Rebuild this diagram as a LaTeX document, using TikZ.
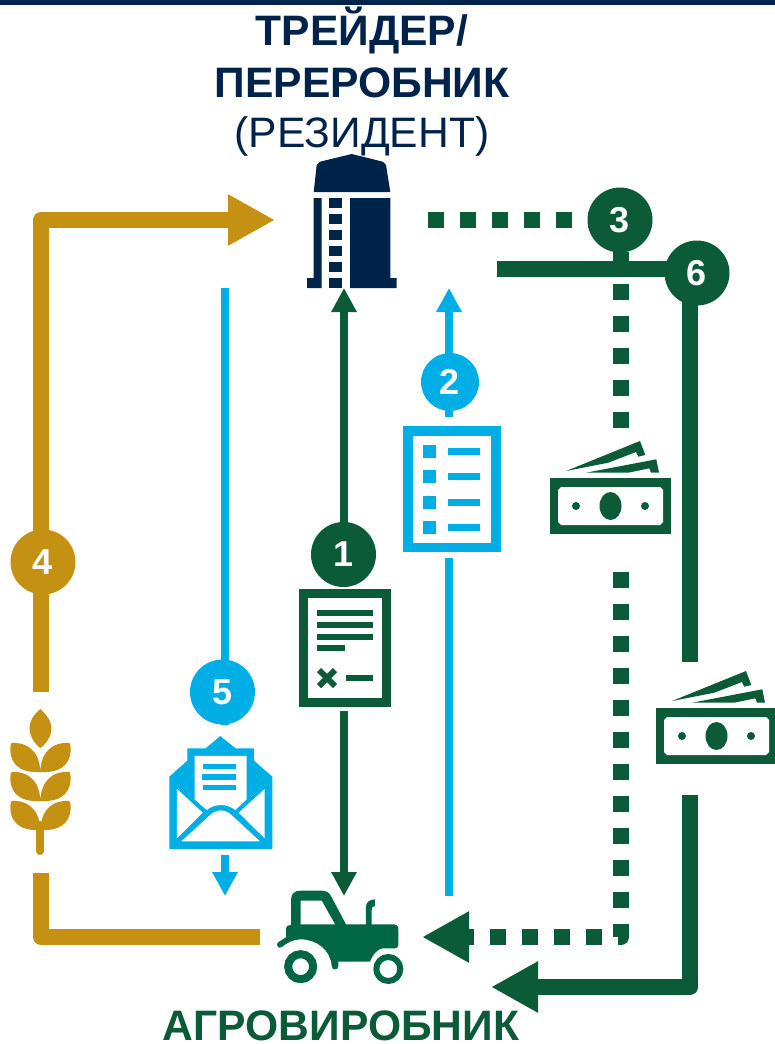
\documentclass[tikz,border=0pt]{standalone}
\usepackage{fontspec}
\setmainfont{Liberation Sans}
\usetikzlibrary{arrows.meta,backgrounds}
\definecolor{navy}{HTML}{00234B}
\definecolor{forest}{HTML}{0B5A38}
\definecolor{tractorgreen}{HTML}{006644}
\definecolor{sky}{HTML}{00AEE6}
\definecolor{wheatgold}{HTML}{C49112}
\tikzset{
title/.style={anchor=base,inner sep=0pt,font=\fontsize{42.6}{42.6}\selectfont\bfseries},
badge/.style={circle,minimum size=65pt,inner sep=0pt,text=white,font=\fontsize{36}{36}\selectfont\bfseries},
thickline/.style={line width=16pt,line join=round},
thinline/.style={line width=8pt},
dotline/.style={line width=16pt,line join=round,dash pattern=on 16pt off 16pt},
bighead/.style={-{Triangle[length=47pt,width=48pt]}},
smallhead/.style={-{Triangle[length=24pt,width=24pt]}},
money/.pic={
\fill[forest] (0,0) rectangle (121,56);
\fill[white] (11,9)--(110,9)--(113,12)--(113,44)--(110,47)--(11,47)--(8,44)--(8,12)--cycle;
\fill[forest] (60.5,28) ellipse (11 and 14);
\fill[forest] (26,28) circle (4);
\fill[forest] (95,28) circle (4);
\fill[forest] (16,-7)--(90,-37)--(95.3,-23)--(88.3,-21.3)--(86,-26)--(58.3,-15.3)--cycle;
\fill[forest] (36,-5.3)--(106.3,-18.7)--(109,-5.3)--(101,-5.3)--(99.3,-9.7)--(78.3,-5.3)--cycle;
},
grain/.pic={
\fill[wheatgold,rounded corners=1pt] (40.3,771) .. controls (39,750) and (26,742) .. (11,743) .. controls (8,762) and (18,773) .. (40.3,772) .. controls (63,773) and (73,762) .. (70,743) .. controls (54,742) and (42,750) .. (40.3,771) -- cycle;
}
}
\begin{document}
\begin{tikzpicture}[x=1pt,y=-1pt]
\useasboundingbox (0,0) rectangle (775,1044);
\fill[navy] (0,0) rectangle (775,5);
\node[title,text=navy] (trader) at (362,45) {ТРЕЙДЕР/};
\node[title,text=navy] (processor) at (362,97) {ПЕРЕРОБНИК};
\node[title,text=navy,font=\fontsize{42.6}{42.6}\selectfont] (resident) at (362,147) {(РЕЗИДЕНТ)};
\node[title,text=forest] (producer) at (341,1040) {АГРОВИРОБНИК};
\node[badge,fill=forest] (badge1) at (343.5,554.5) {1};
\node[badge,fill=sky,minimum size=58pt] (badge2) at (450,382) {2};
\node[badge,fill=forest] (badge3) at (620,220) {3};
\node[badge,fill=wheatgold] (badge4) at (43,562) {4};
\node[badge,fill=sky] (badge5) at (222.5,692) {5};
\node[badge,fill=forest] (badge6) at (697,273) {6};
\coordinate (goldstart) at (260,937);
\coordinate (goldlow) at (41,937);
\coordinate (goldmid) at (41,873);
\coordinate (goldup) at (41,692);
\coordinate (goldtop) at (41,220);
\coordinate (goldtip) at (275,220);
\coordinate (oneup) at (344,530);
\coordinate (onetip) at (344,288);
\coordinate (onedown) at (344,711);
\coordinate (onelow) at (344,896);
\coordinate (twoup) at (449,417);
\coordinate (twotip) at (449,288);
\coordinate (twodown) at (449,558);
\coordinate (twolow) at (449,896);
\coordinate (threeleft) at (428,220);
\coordinate (threetop) at (621,220);
\coordinate (threeup) at (621,428);
\coordinate (threedown) at (621,572);
\coordinate (threecorner) at (621,937);
\coordinate (threetip) at (422,937);
\coordinate (fivetop) at (225,288);
\coordinate (fivestub) at (225,725);
\coordinate (fivedown) at (225,855);
\coordinate (fivetip) at (225,896);
\coordinate (sixleft) at (497,269);
\coordinate (sixcorner) at (690,269);
\coordinate (sixup) at (690,662);
\coordinate (sixdown) at (690,795);
\coordinate (sixlow) at (690,987);
\coordinate (sixtip) at (491,987);
\begin{scope}[on background layer]
\draw[thickline,wheatgold] (goldstart)--(goldlow)--(goldmid);
\draw[thickline,wheatgold,bighead] (goldup)--(goldtop)--(goldtip);
\draw[thinline,forest,smallhead] (oneup)--(onetip);
\draw[thinline,forest,smallhead] (onedown)--(onelow);
\draw[thinline,sky,smallhead] (twoup)--(twotip);
\draw[thinline,sky] (twodown)--(twolow);
\draw[dotline,forest] (threeleft)--(badge3.center);
\draw[dotline,forest] (threetop)--(threeup);
\draw[dotline,forest,bighead] (threedown)--(threecorner)--(threetip);
\draw[thinline,sky] (fivetop)--(fivestub);
\draw[thinline,sky,smallhead] (fivedown)--(fivetip);
\draw[thickline,forest] (sixleft)--(sixcorner)--(sixup);
\draw[thickline,forest,bighead] (sixdown)--(sixlow)--(sixtip);
\end{scope}
\fill[navy] (313.7,192)--(316.7,165)--(320,161.7)--(351.7,154)--(382.7,161.7)--(386,165)--(390.3,192)--cycle;
\fill[navy] (313.7,198)--(321.7,198)--(321.7,288)--(307,288)--(307,278)--(313.7,278)--cycle;
\fill[navy] (350,198)--(390.3,198)--(390.3,278)--(396.7,278)--(396.7,288)--(350,288)--cycle;
\foreach \y in {198,214,230,246,262,278}
\fill[navy] (329,\y) rectangle (342.3,\y+10);
\fill[forest] (299,589) rectangle (391,707);
\fill[white] (308,598) rectangle (382,698);
\foreach \y/\xend in {612.7/373,625/373,636.7/373,648/345}
\fill[forest] (317,\y-3) rectangle (\xend,\y+3);
\draw[forest,line width=6pt] (319,670)--(335,686);
\draw[forest,line width=6pt] (335,670)--(319,686);
\fill[forest] (346,675) rectangle (373,681);
\fill[sky] (403,426) rectangle (501,552);
\fill[white] (412.5,436) rectangle (491,543);
\foreach \y in {451.5,476.5,502.5,527.5}{
\fill[sky] (423,\y-6.5) rectangle (436,\y+6.5);
\fill[sky] (448,\y-3.5) rectangle (480,\y+3.5);
}
\pic at (550,478) {money};
\pic at (656,708) {money};
\begin{scope}
\fill[wheatgold] (40.3,709) .. controls (33,715) and (29.5,722) .. (29.5,728) .. controls (29.5,737) and (36,745) .. (40.3,748) .. controls (45,745) and (51.5,737) .. (51.5,728) .. controls (51.5,722) and (47,715) .. (40.3,709) -- cycle;
\foreach \dy in {0,29,58}
\pic at (0,\dy) {grain};
\draw[wheatgold,line width=8pt,line cap=round] (40.3,825)--(40.3,851);
\end{scope}
\begin{scope}[shift={(0,640)},scale=0.3333]
\fill[sky] (508,410)--(562,362)--(562,325)--(617,325)--(661,288)--(707,325)--(762,325)--(762,362)--(817,410)--(817,627)--(508,627)--cycle;
\fill[white] (584,348)--(740,348)--(740,478)--(706,510) .. controls (680,490) and (645,490) .. (620,510)--(584,478)--cycle;
\fill[sky] (608,372) rectangle (708,387);
\fill[sky] (606,403) rectangle (708,420);
\fill[sky] (608,434) rectangle (708,449);
\fill[white] (531,447)--(608,518)--(531,595)--cycle;
\fill[white] (794,447)--(716,518)--(794,595)--cycle;
\fill[white] (544,604)--(625,530) .. controls (650,505) and (675,505) .. (700,530)--(780,604)--cycle;
\end{scope}
\begin{scope}[shift={(260,860)},scale=0.3333]
\fill[tractorgreen] (93,195)--(93,120) .. controls (93,100) and (105,92) .. (122,92)--(185,92) .. controls (200,92) and (208,98) .. (214,110)--(258,193)--(318,193)--(318,140) .. controls (318,128) and (328,118) .. (345,118)--(345,138) .. controls (338,138) and (335,142) .. (335,150)--(335,193)--(400,193) .. controls (410,193) and (415,198) .. (415,208)--(415,255) .. controls (415,262) and (410,265) .. (405,265)--(368,265) .. controls (350,268) and (338,285) .. (330,305)--(235,305)--(235,318) .. controls (235,332) and (215,332) .. (215,318) .. controls (212,270) and (170,238) .. (122,238) .. controls (100,238) and (82,248) .. (64,262) .. controls (55,268) and (45,252) .. (56,246)--(78,232)--(78,205) .. controls (78,198) and (85,195) .. (93,195)--cycle;
\fill[white] (122,122)--(185,122)--(225,193)--(122,193)--cycle;
\draw[tractorgreen,line width=8pt] (122,320) circle (37.5);
\draw[tractorgreen,line width=6pt] (385,327) circle (36);
\end{scope}
\end{tikzpicture}
\end{document}
